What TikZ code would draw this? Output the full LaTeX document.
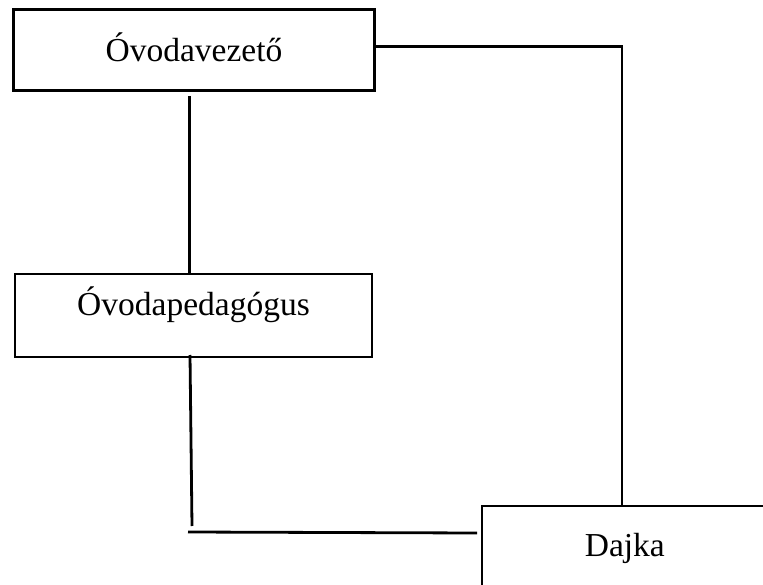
\documentclass[tikz,border=0pt]{standalone}
\usepackage{fontspec}
\setmainfont{Liberation Serif}
\begin{document}
\begin{tikzpicture}[x=1pt,y=-1pt,
  box/.style={draw=black,inner sep=0pt,align=center,font=\fontsize{33.5}{38}\selectfont,anchor=north west},
  conn/.style={draw=black,line width=2.8pt}]
\useasboundingbox (0,0) rectangle (763,585);
\clip (0,0) rectangle (763,585);
\fill[white] (0,0) rectangle (763,585);
\node[box,line width=3pt,text width=361pt,text height=52pt,text depth=29pt] (v) at (12,8) {Óvodavezető};
\node[box,line width=2pt,text width=357pt,text height=42pt,text depth=41pt] (p) at (14,273) {Óvodapedagógus};
\node[box,line width=1.7pt,text width=286pt,text height=51pt,text depth=45pt] (d) at (481,505) {Dajka};
\coordinate (c1) at (192,526);
\coordinate (c2) at (188,532);
\draw[conn] ([yshift=3.5pt]v.east) -| ([xshift=141pt]d.north west);
\draw[conn] ([xshift=-4.5pt,yshift=-4pt]v.south) -- ([xshift=-4.5pt]v.south |- p.north);
\draw[conn] ([xshift=-3.5pt,yshift=3pt]p.south) -- (c1);
\draw[conn] (c2) -- ([xshift=-4pt,yshift=-28pt]d.north west);
\end{tikzpicture}
\end{document}
